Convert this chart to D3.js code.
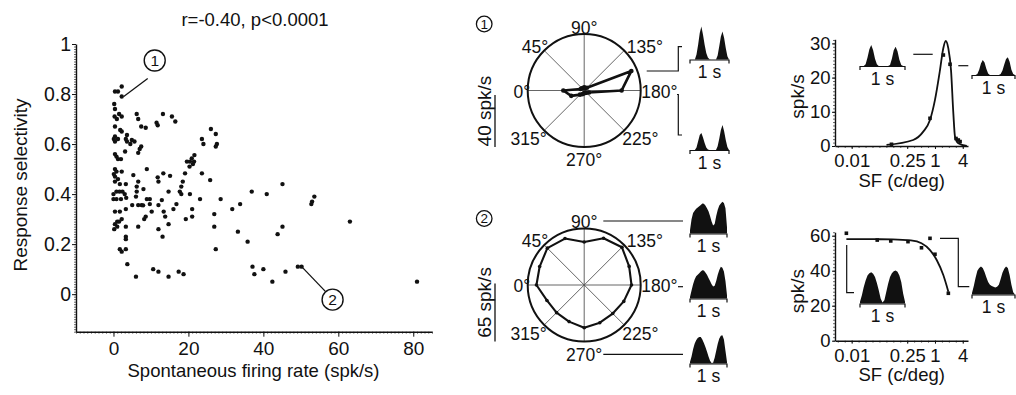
<!DOCTYPE html>
<html><head><meta charset="utf-8">
<script src="https://cdn.jsdelivr.net/npm/d3@7"></script>
<style>
body{margin:0;background:#fff;}
svg{display:block;}
</style></head><body>
<svg id="c" width="1016" height="395"></svg>
<script>
// ---------------- DATA ----------------
const scatterRate = [2.2,0.4,1.2,2.2,0.2,0.4,1.5,2.2,0.3,0.9,
 6.2,6.6,7.4,8.6,11.5,11.8,13.2,15.6,16.5,
 0.4,1.8,2.2,3.6,0.4,0.1,0.4,1.2,
 3.3,4.9,4.5,5.6,3.6,
 7.4,7.0,6.6,3.1,
 0.8,1.2,0.4,2.0,
 23.6,24.0,26.0,27.3,27.6,27.3,
 19.6,20.4,20.9,21.5,21.6,20.3,21.2,
 0.4,0.1,0.8,0.4,1.2,2.2,
 5.3,8.9,11.8,13.3,15.1,12,19.1,23.6,25.8,
 18.5,18.1,17.7,
 0.4,1.7,3.3,6.6,6.2,8,
 0,0.8,1.6,2.4,3.0,0,0.8,2.0,3.4,
 6,6.2,8.9,9.7,6.6,7.5,7.9,5,9.7,12,12.9,
 10.2,8.6,8.2,13.4,13.8,14.7,16,16.8,14.7,18.1,20.4,
 21,21,19.3,23.1,26.9,26.9,27.3,28.6,31.7,33.8,33.2,35.8,
 36.9,40.9,45.1,53.6,53.0,52.8,
 37.1,37.6,40,42.4,43.8,45.1,45.9,49.2,50.2,63.1,81,
 0.4,1.7,0.4,1.0,1.5,2.2,0.2,1.0,3.3,3.3,3.3,1.7,2.2,3.3,3.7,3.3,6,
 10.6,12,14.7,17.4,18.7,6.6,12,13.1];
const scatterSelectivity = [0.83,0.81,0.81,0.79,0.76,0.74,0.72,0.71,0.71,0.70,
 0.72,0.70,0.67,0.665,0.685,0.675,0.72,0.71,0.69,
 0.67,0.656,0.65,0.636,0.63,0.62,0.61,0.62,
 0.62,0.616,0.60,0.61,0.61,
 0.59,0.58,0.565,0.57,
 0.55,0.54,0.56,0.54,
 0.62,0.60,0.66,0.64,0.60,0.59,
 0.53,0.53,0.543,0.53,0.556,0.51,0.52,
 0.50,0.48,0.49,0.47,0.46,0.49,
 0.476,0.50,0.467,0.483,0.473,0.45,0.483,0.483,0.456,
 0.45,0.43,0.41,
 0.45,0.44,0.44,0.45,0.43,0.42,
 0.40,0.41,0.41,0.41,0.40,0.38,0.38,0.38,0.385,
 0.39,0.41,0.38,0.38,0.356,0.356,0.355,0.356,0.36,0.356,0.376,
 0.33,0.31,0.30,0.33,0.31,0.28,0.34,0.36,0.41,0.40,0.40,
 0.34,0.31,0.30,0.38,0.32,0.27,0.18,0.38,0.34,0.36,0.25,0.21,
 0.41,0.40,0.44,0.39,0.37,0.36,
 0.11,0.08,0.10,0.05,0.24,0.27,0.09,0.11,0.11,0.29,0.05,
 0.33,0.33,0.28,0.29,0.29,0.30,0.26,0.27,0.27,0.23,0.22,0.18,0.17,0.18,0.12,0.34,0.07,
 0.10,0.09,0.07,0.09,0.08,0.27,0.26,0.23];
const scatterXTicks = [0,20,40,60,80];
const scatterYTicks = [0,0.2,0.4,0.6,0.8,1];

const directions = [0,22.5,45,67.5,90,112.5,135,157.5,180,202.5,225,247.5,270,292.5,315,337.5];
const polar1Rate = [16.1,3,2.5,2,2.5,2,3,39.3,28.8,4,2.5,2,2,3,4.5,10.8];
const polar2Rate = [53.5,54,58.4,56.3,48.2,56.7,59.8,54.5,53,48,45.2,45.7,47.9,44.4,43.8,45.2];
const polarAngleLabels = [0,45,90,135,180,225,270,315];
const polar1ScaleBar = 40, polar2ScaleBar = 65;

const psthPolar1Top    = [0,0,0,0,15,45,80,100,75,45,20,6,1,0,0,0,0,12,40,70,85,65,35,10,0];
const psthPolar1Bottom = [0,0,0,0,10,35,60,68,50,28,10,2,0,0,0,0,0,15,45,80,100,75,40,12,0];
const psthPolar2Top    = [10,45,65,72,78,82,86,90,95,94,88,80,70,55,38,25,30,55,75,88,95,100,96,80,20];
const psthPolar2Mid    = [5,25,45,60,70,75,80,85,89,88,82,75,65,55,45,38,40,55,75,90,100,97,85,55,10];
const psthPolar2Bottom = [5,25,50,70,82,90,94,94,85,72,58,42,25,10,2,3,20,45,70,88,98,100,85,45,5];
const psthSf1Left  = [0,0,0,8,40,80,100,75,35,8,0,0,0,0,0,0,5,35,75,92,70,30,5,0,0];
const psthSf1Right = [0,0,0,5,30,65,85,70,35,8,0,0,0,0,0,0,5,25,60,90,100,75,30,5,0];
const psthSf2Left  = [5,25,50,70,85,92,95,90,80,62,40,15,3,10,35,60,80,92,98,100,96,85,65,30,5];
const psthSf2Right = [5,30,60,85,95,100,95,80,62,45,35,30,28,25,28,35,55,78,92,100,95,70,35,8,0];

const sf1Freq = [0.114,0.78,1.52,2.12,2.86,3.2,3.5];
const sf1Rate = [0.5,8.1,26.6,23.9,2.2,1.75,1.3];
const sf1FitFreq = [0.089,0.337,0.557,0.779,1.0,1.284,1.515,1.71,1.945,2.227,2.5,2.72,3.2,4.9];
const sf1FitRate = [0.3,1.75,4.2,7.6,13.5,22.2,28.6,30.7,28.6,22.2,9.6,2.7,0.8,0];
const sf2Freq = [0.012,0.056,0.11,0.26,0.51,0.78,1.0,1.95];
const sf2Rate = [61.4,57.5,57,56.6,53.1,58.5,49.4,27.1];
const sf2FitFreq = [0.012,0.05,0.12,0.3,0.51,0.78,1.09,1.515,1.95];
const sf2FitRate = [58.1,58.0,57.9,57.3,55.7,51.8,46.1,37.5,28];
const sfTickValues = [1/64,0.25,1,4];
const sfTickLabels = ["0.01","0.25","1","4"];
const sf1YTicks = [0,10,20,30];
const sf2YTicks = [0,20,40,60];

// ---------------- DRAW ----------------
const FONT = '"Liberation Sans", Arial, Helvetica, sans-serif';
const svg = d3.select("#c").attr("font-family", FONT);

function styleAxis(g, fs){
  g.attr("font-size", fs).attr("font-family", FONT);
  g.selectAll("text").attr("fill","#111");
  g.selectAll("line").attr("stroke","#111");
  g.select(".domain").attr("stroke","#111").attr("stroke-width",1.4);
}
function minor(g){ g.select(".domain").remove(); g.selectAll("line").attr("stroke","#444").attr("stroke-width",0.8); }

// ---- Scatter ----
const sx = d3.scaleLinear().domain([-10,85]).range([76,432]);
const sy = d3.scaleLinear().domain([-0.15,1]).range([331.7,44]);
const gS = svg.append("g");
gS.append("g").attr("transform","translate(0,331.7)")
  .call(d3.axisBottom(sx).tickValues(d3.range(-10,86,1)).tickFormat("").tickSize(2).tickSizeOuter(0)).call(minor);
gS.append("g").attr("transform","translate(76,0)")
  .call(d3.axisLeft(sy).tickValues(d3.range(-15,101).map(v=>v/100)).tickFormat("").tickSize(2).tickSizeOuter(0)).call(minor);
gS.append("g").attr("transform","translate(0,331.7)")
  .call(d3.axisBottom(sx).tickValues(scatterXTicks).tickSize(5).tickPadding(5).tickSizeOuter(0))
  .call(g=>styleAxis(g,19));
gS.append("g").attr("transform","translate(76,0)")
  .call(d3.axisLeft(sy).tickValues(scatterYTicks).tickFormat(d3.format("~g")).tickSize(4).tickPadding(1).tickSizeOuter(0))
  .call(g=>styleAxis(g,19.5));
gS.append("g").selectAll("circle").data(scatterRate.map((r,i)=>[r,scatterSelectivity[i]]))
  .join("circle").attr("cx",d=>sx(d[0])).attr("cy",d=>sy(d[1])).attr("r",2.2).attr("fill","#111");
gS.append("text").attr("x",255).attr("y",26).attr("text-anchor","middle").attr("font-size",18.5).attr("fill","#111").text("r=-0.40, p<0.0001");
gS.append("text").attr("x",253.5).attr("y",376.5).attr("text-anchor","middle").attr("font-size",18.5).attr("fill","#111").text("Spontaneous firing rate (spk/s)");
gS.append("text").attr("transform","translate(27,185) rotate(-90)").attr("text-anchor","middle").attr("font-size",19).attr("fill","#111").text("Response selectivity");

function callout(g, px, py, dx1, dy1, dx2, dy2, cdx, cdy, label){
  g.append("line").attr("x1",px+dx1).attr("y1",py+dy1).attr("x2",px+dx2).attr("y2",py+dy2).attr("stroke","#111").attr("stroke-width",1.3);
  g.append("circle").attr("cx",px+cdx).attr("cy",py+cdy).attr("r",10.5).attr("fill","#fff").attr("stroke","#111").attr("stroke-width",1.4);
  g.append("text").attr("x",px+cdx).attr("y",py+cdy+5.5).attr("text-anchor","middle").attr("font-size",15.5).attr("fill","#111").text(label);
}
callout(gS, sx(2.2), sy(0.79), 2, 0, 26, -18, 33, -36, "1");
callout(gS, sx(50.2), sy(0.11), 1, 1, 24, 25, 31, 33, "2");

// ---- Polar plots ----
function drawPolar(cx, cy, R, maxRate, rates, bar, barLabel, num, lw, dotR){
  const g = svg.append("g").attr("transform",`translate(${cx},${cy})`);
  const r = d3.scaleLinear().domain([0,maxRate]).range([0,R]);
  [0,45,90,135].forEach(a=>{
    const t=a*Math.PI/180;
    g.append("line").attr("x1",-R*Math.cos(t)).attr("y1",-R*Math.sin(t)).attr("x2",R*Math.cos(t)).attr("y2",R*Math.sin(t))
      .attr("stroke","#555").attr("stroke-width",0.9);
  });
  g.append("circle").attr("r",R).attr("fill","none").attr("stroke","#111").attr("stroke-width",2);
  const pts = directions.map((d,i)=>({dir:d, rate:rates[i]}));
  const line = d3.lineRadial().angle(d=>(d.dir-90)*Math.PI/180).radius(d=>r(d.rate)).curve(d3.curveLinearClosed);
  g.append("path").attr("d",line(pts)).attr("fill","none").attr("stroke","#111").attr("stroke-width",lw).attr("stroke-linejoin","round");
  g.selectAll("circle.pt").data(pts).join("circle").attr("class","pt")
    .attr("cx",d=>-r(d.rate)*Math.cos(d.dir*Math.PI/180)).attr("cy",d=>-r(d.rate)*Math.sin(d.dir*Math.PI/180))
    .attr("r",dotR).attr("fill","#111");
  const lab = {0:[-54,7,"end"],45:[-36,-38,"end"],90:[0,-57,"middle"],135:[42.5,-38,"start"],
               180:[57,7,"start"],225:[38,54.5,"start"],270:[0,75.5,"middle"],315:[-37.5,54.5,"end"]};
  polarAngleLabels.forEach(a=>{
    const L=lab[a];
    g.append("text").attr("x",L[0]).attr("y",L[1]).attr("text-anchor",L[2]).attr("font-size",17.5).attr("fill","#111").text(a+"°");
  });
  // scale bar
  const bx = 495-cx;
  g.append("line").attr("x1",bx).attr("x2",bx).attr("y1",56.5).attr("y2",56.5-r(bar)).attr("stroke","#111").attr("stroke-width",1.3);
  g.append("text").attr("transform",`translate(${bx-4},${56.5-r(bar)/2-10}) rotate(-90)`).attr("text-anchor","middle")
    .attr("font-size",19).attr("fill","#111").text(barLabel);
  // number
  g.append("circle").attr("cx",484.2-cx).attr("cy",-66.5).attr("r",7.8).attr("fill","none").attr("stroke","#111").attr("stroke-width",1.3);
  g.append("text").attr("x",484.2-cx).attr("y",-61.8).attr("text-anchor","middle").attr("font-size",13.5).attr("fill","#111").text(num);
  return r;
}
drawPolar(584.2, 90.5, 56.5, 43.5, polar1Rate, polar1ScaleBar, "40 spk/s", "1", 2.7, 2.3);
drawPolar(584.2, 285, 56.5, 63.3, polar2Rate, polar2ScaleBar, "65 spk/s", "2", 2.1, 1.8);

function drawPsth(x0, x1, y0, h, values){
  const g = svg.append("g");
  const x = d3.scaleLinear().domain([0,values.length-1]).range([x0,x1]);
  const y = d3.scaleLinear().domain([0,100]).range([y0,y0-h]);
  g.append("path").attr("d", d3.area().x((d,i)=>x(i)).y0(y0).y1(d=>y(d))(values)).attr("fill","#111");
  g.append("path").attr("d",`M${x0},${y0+4}V${y0+0.5}H${x1}V${y0+4}`).attr("fill","none").attr("stroke","#111").attr("stroke-width",1.2);
  g.append("text").attr("x",(x0+x1)/2).attr("y",y0+18.5).attr("text-anchor","middle").attr("font-size",17.5).attr("fill","#111").text("1 s");
}
function path(points){ svg.append("path").attr("d",d3.line()(points)).attr("fill","none").attr("stroke","#111").attr("stroke-width",1.2); }

drawPsth(690,729,59.5,33,psthPolar1Top);
drawPsth(690,729,150,25,psthPolar1Bottom);
drawPsth(690,727,233.5,31.7,psthPolar2Top);
drawPsth(690,727,298.5,31.7,psthPolar2Mid);
drawPsth(690,727,363.5,28.3,psthPolar2Bottom);
path([[646.7,71],[678.3,71],[678.3,46.7],[682,46.7]]);
path([[677,94.5],[678.3,94.5],[678.3,135],[682,135]]);
path([[603.3,221],[683,221]]);
path([[678,286.7],[683,286.7]]);
path([[603.3,354.3],[683,354.3]]);

// ---- SF plots ----
const sfx = d3.scaleLog().base(2).domain([0.0068,5.2]).range([835,968]);
function drawSf(yBottom, pxPerUnit, yMax, yTicks, freq, rate, fitF, fitR, yStep){
  const y = d3.scaleLinear().domain([0,yMax]).range([yBottom, yBottom-yMax*pxPerUnit]);
  const g = svg.append("g");
  g.append("g").attr("transform",`translate(0,${yBottom})`)
    .call(d3.axisBottom(sfx).tickValues(d3.range(-7,2.5,0.5).map(v=>Math.pow(2,v))).tickFormat("").tickSize(2).tickSizeOuter(0)).call(minor);
  g.append("g").attr("transform","translate(835,0)")
    .call(d3.axisLeft(y).tickValues(d3.range(0,yMax+0.01,yStep)).tickFormat("").tickSize(2).tickSizeOuter(0)).call(minor);
  g.append("g").attr("transform",`translate(0,${yBottom})`)
    .call(d3.axisBottom(sfx).tickValues(sfTickValues).tickFormat((d,i)=>sfTickLabels[i]).tickSize(3).tickPadding(5).tickSizeOuter(0))
    .call(gg=>styleAxis(gg,18.5));
  g.append("g").attr("transform","translate(835,0)")
    .call(d3.axisLeft(y).tickValues(yTicks).tickSize(3).tickPadding(1.5).tickSizeOuter(0))
    .call(gg=>styleAxis(gg,18.5));
  const fit = fitF.map((f,i)=>[sfx(f), y(fitR[i])]);
  g.append("path").attr("d", d3.line().curve(d3.curveMonotoneX)(fit)).attr("fill","none").attr("stroke","#111").attr("stroke-width",1.8);
  g.selectAll("rect.pt").data(freq.map((f,i)=>[f,rate[i]])).join("rect").attr("class","pt")
    .attr("x",d=>sfx(d[0])-1.8).attr("y",d=>y(d[1])-1.8).attr("width",3.6).attr("height",3.6).attr("fill","#111");
  g.append("text").attr("x",901.7).attr("y",yBottom+40.5).attr("text-anchor","middle").attr("font-size",18.5).attr("fill","#111").text("SF (c/deg)");
  g.append("text").attr("transform",`translate(803.5,${yBottom-49.5}) rotate(-90)`).attr("text-anchor","middle").attr("font-size",19).attr("fill","#111").text("spk/s");
  return y;
}
drawSf(146, 3.42, 31.2, sf1YTicks, sf1Freq, sf1Rate, sf1FitFreq, sf1FitRate, 1);
drawSf(340.7, 1.75, 62, sf2YTicks, sf2Freq, sf2Rate, sf2FitFreq, sf2FitRate, 2);

drawPsth(860,905,66,21,psthSf1Left);
drawPsth(972,1015,75,17.7,psthSf1Right);
drawPsth(860,905,303.5,33,psthSf2Left);
drawPsth(972,1015,294.5,28,psthSf2Right);
path([[913.3,54.3],[932.7,54.3]]);
path([[958.3,65.7],[968.3,65.7]]);
path([[846.7,245],[846.7,292.7],[854,292.7]]);
path([[940,238.3],[958.3,238.3],[958.3,286.7],[969.3,286.7]]);
</script>
</body></html>
